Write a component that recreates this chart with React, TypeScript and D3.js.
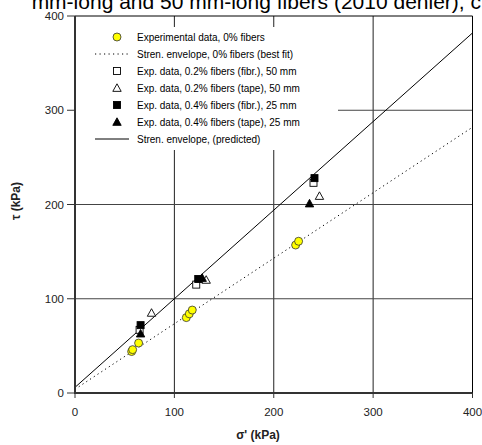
import React from "react";
import * as d3 from "d3";

const xTicks = [0, 100, 200, 300, 400];
const yTicks = [0, 100, 200, 300, 400];

const noFiberSigma = [57, 58, 64, 112, 115, 118, 222, 225];
const noFiberTau = [44, 46, 53, 80, 84, 88, 157, 161];

const fibr02Sigma = [65, 122, 240];
const fibr02Tau = [67, 115, 223];
const tape02Sigma = [77, 132, 246];
const tape02Tau = [85, 120, 209];
const fibr04Sigma = [66, 124, 241];
const fibr04Tau = [72, 121, 228];
const tape04Sigma = [66, 128, 236];
const tape04Tau = [63, 122, 201];

const bestFitLine: [number, number][] = [[0, 4], [400, 282]];
const predictedLine: [number, number][] = [[0, 6], [400, 382]];

const legendLabels = [
  "Experimental data, 0% fibers",
  "Stren. envelope, 0% fibers (best fit)",
  "Exp. data, 0.2% fibers (fibr.), 50 mm",
  "Exp. data, 0.2% fibers (tape), 50 mm",
  "Exp. data, 0.4% fibers (fibr.), 25 mm",
  "Exp. data, 0.4% fibers (tape), 25 mm",
  "Stren. envelope, (predicted)",
];

const titleText = "mm-long and 50 mm-long fibers (2010 denier), c";

const FONT = "Liberation Sans, Arial, sans-serif";

function Marker({ kind, cx, cy }: { kind: string; cx: number; cy: number }) {
  if (kind === "circle")
    return <circle cx={cx} cy={cy} r={4} fill="#ffff00" stroke="#333" strokeWidth={0.8} />;
  if (kind === "osq")
    return <rect x={cx - 3.5} y={cy - 3.5} width={7} height={7} fill="#fff" stroke="#000" strokeWidth={0.9} />;
  if (kind === "fsq")
    return <rect x={cx - 3.5} y={cy - 3.5} width={7} height={7} fill="#000" stroke="#000" strokeWidth={0.9} />;
  const s = 4.2;
  const pts = `${cx},${cy - s} ${cx - s},${cy + s * 0.8} ${cx + s},${cy + s * 0.8}`;
  if (kind === "otri") return <polygon points={pts} fill="#fff" stroke="#000" strokeWidth={0.9} />;
  return <polygon points={pts} fill="#000" stroke="#000" strokeWidth={0.9} />;
}

export default function App() {
  const W = 482, H = 445;
  const x = d3.scaleLinear().domain([0, 400]).range([75, 472.5]);
  const y = d3.scaleLinear().domain([0, 400]).range([393, 16]);
  const line = d3.line<[number, number]>().x((d) => x(d[0])).y((d) => y(d[1]));

  const series = [
    { kind: "osq", s: fibr02Sigma, t: fibr02Tau },
    { kind: "otri", s: tape02Sigma, t: tape02Tau },
    { kind: "fsq", s: fibr04Sigma, t: fibr04Tau },
    { kind: "ftri", s: tape04Sigma, t: tape04Tau },
  ];

  const legendY0 = 37;
  const legendDy = 17;
  const legendKinds = ["circle", "dot", "osq", "otri", "fsq", "ftri", "solid"];

  return (
    <svg width={W} height={H} style={{ position: "absolute", left: 0, top: 0 }} fontFamily={FONT}>
      <rect x={0} y={0} width={W} height={H} fill="#fff" />
      <text x={481} y={9} fontSize={21} textAnchor="end" fill="#000">{titleText}</text>
      <defs>
        <clipPath id="plotclip">
          <rect x={x(0)} y={y(400)} width={x(400) - x(0) + 4} height={y(0) - y(400)} />
        </clipPath>
      </defs>
      {/* gridlines */}
      {xTicks.slice(1, -1).map((t) => (
        <line key={"gx" + t} x1={x(t)} x2={x(t)} y1={y(0)} y2={y(400)} stroke="#222" strokeWidth={1} />
      ))}
      {yTicks.slice(1, -1).map((t) => (
        <line key={"gy" + t} x1={x(0)} x2={x(400)} y1={y(t)} y2={y(t)} stroke="#444" strokeWidth={1} />
      ))}
      {/* legend background */}
      <rect x={x(0) + 1} y={27} width={338 - x(0) - 1} height={123} fill="#fff" />
      {/* lines */}
      <g clipPath="url(#plotclip)">
        <path d={line(bestFitLine) || ""} fill="none" stroke="#000" strokeWidth={1} strokeDasharray="1.2,3.3" />
        <path d={line(predictedLine) || ""} fill="none" stroke="#000" strokeWidth={1} />
      </g>
      {/* points */}
      {noFiberSigma.map((s, i) => (
        <Marker key={"c" + i} kind="circle" cx={x(s)} cy={y(noFiberTau[i])} />
      ))}
      {series.map((se) =>
        se.s.map((s, i) => <Marker key={se.kind + i} kind={se.kind} cx={x(s)} cy={y(se.t[i])} />)
      )}
      {/* frame */}
      <line x1={x(0)} x2={x(400)} y1={y(400)} y2={y(400)} stroke="#000" strokeWidth={1} />
      <line x1={x(400)} x2={x(400)} y1={y(400)} y2={y(0)} stroke="#000" strokeWidth={1} />
      <line x1={x(0)} x2={x(0)} y1={y(400)} y2={y(0) + 1} stroke="#333" strokeWidth={2} />
      <line x1={x(0) - 1} x2={x(400)} y1={y(0)} y2={y(0)} stroke="#333" strokeWidth={2} />
      {/* ticks */}
      {yTicks.map((t) => (
        <g key={"yt" + t}>
          <line x1={x(0) - 8} x2={x(0)} y1={y(t)} y2={y(t)} stroke="#333" strokeWidth={1} />
          <text x={64} y={y(t)} dy="0.35em" fontSize={11.5} textAnchor="end" fill="#222">{t}</text>
        </g>
      ))}
      {xTicks.map((t) => (
        <g key={"xt" + t}>
          <line x1={x(t)} x2={x(t)} y1={y(0)} y2={y(0) + 5} stroke="#333" strokeWidth={1} />
          <text x={x(t)} y={412} dy="0.35em" fontSize={11.5} textAnchor="middle" fill="#222">{t}</text>
        </g>
      ))}
      {/* axis titles */}
      <text x={258} y={439} fontSize={12} fontWeight="bold" textAnchor="middle" fill="#222">σ' (kPa)</text>
      <text transform={`translate(20,201) rotate(-90)`} fontSize={12} fontWeight="bold" textAnchor="middle" fill="#222">τ (kPa)</text>
      {/* legend */}
      {legendLabels.map((lab, i) => {
        const ly = legendY0 + i * legendDy;
        const k = legendKinds[i];
        return (
          <g key={"lg" + i}>
            {k === "dot" && (
              <line x1={95} x2={129} y1={ly} y2={ly} stroke="#000" strokeWidth={1} strokeDasharray="1.2,3.3" />
            )}
            {k === "solid" && <line x1={95} x2={129} y1={ly} y2={ly} stroke="#000" strokeWidth={1} />}
            {k !== "dot" && k !== "solid" && <Marker kind={k} cx={117} cy={ly} />}
            <text x={137} y={ly} dy="0.35em" fontSize={10} fill="#000">{lab}</text>
          </g>
        );
      })}
    </svg>
  );
}
